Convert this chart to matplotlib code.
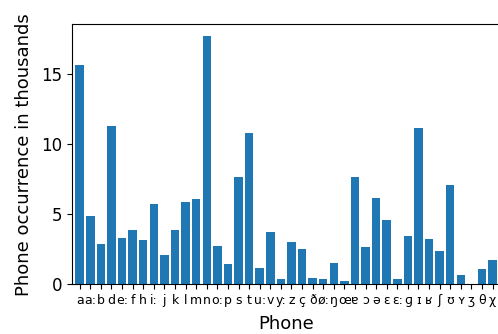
import matplotlib
matplotlib.use("Agg")
import matplotlib.pyplot as plt

# phones and their counts (thousands)
phones = ["a", "a:", "b", "d", "e:", "f", "h", "i:", "j", "k",
          "l", "m", "n", "o:", "p", "s", "t", "u:", "v", "y:",
          "z", "ç", "ð", "ø:", "ŋ", "œ", "ɐ", "ɔ", "ə", "ɛ",
          "ɛ:", "ɡ", "ɪ", "ʁ", "ʃ", "ʊ", "ʏ", "ʒ", "θ", "χ"]
counts = [15.67, 4.86, 2.90, 11.31, 3.31, 3.90, 3.19, 5.74, 2.10, 3.86,
          5.90, 6.07, 17.74, 2.71, 1.48, 7.69, 10.79, 1.19, 3.74, 0.40,
          3.02, 2.55, 0.43, 0.36, 1.55, 0.26, 7.67, 2.64, 6.19, 4.60,
          0.38, 3.43, 11.19, 3.24, 2.40, 7.10, 0.67, 0.0, 1.07, 1.76]

fig = plt.figure(figsize=(4.98, 3.34), dpi=100)
ax = fig.add_axes([72/498, (334-284.3)/334, (500-72)/498, (284.3-24)/334])

x = list(range(len(phones)))
ax.bar(x, counts, width=0.8, color="#1f77b4")
ax.set_xticks(x)
ax.set_xticklabels(phones, fontsize=9)
ax.tick_params(axis="y", labelsize=12)
ax.set_yticks([0, 5, 10, 15])
ax.set_xlim(-0.73, 39.7)
ax.set_ylim(0, 18.6)
ax.set_xlabel("Phone", fontsize=13, labelpad=6)
ax.set_ylabel("Phone occurrence in thousands", fontsize=13, labelpad=6)

fig.savefig("out.png", dpi=100)
